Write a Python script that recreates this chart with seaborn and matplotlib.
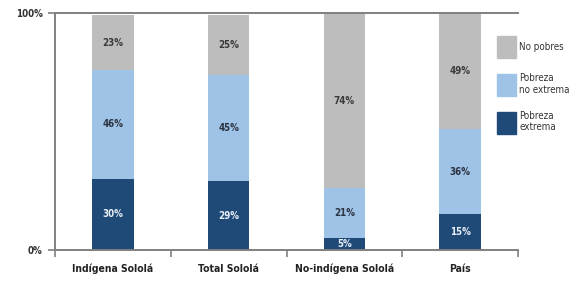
import matplotlib
matplotlib.use("Agg")
import matplotlib.pyplot as plt
import matplotlib.patches as mpatches
import pandas as pd
import seaborn as sns

# datos
categorias = ["Indígena Sololá", "Total Sololá", "No-indígena Sololá", "País"]
pobreza_extrema = [30, 29, 5, 15]
pobreza_no_extrema = [46, 45, 21, 36]
no_pobres = [23, 25, 74, 49]

color_extrema = "#1f4a78"
color_no_extrema = "#9fc2e7"
color_no_pobres = "#bdbdbd"

sns.set_style("white")
plt.rcParams["font.family"] = ["DejaVu Sans"]
plt.rcParams["font.stretch"] = "condensed"

df = pd.DataFrame({
    "categoria": categorias,
    "extrema": pobreza_extrema,
    "no_extrema": pobreza_no_extrema,
    "no_pobres": no_pobres,
})
# alturas acumuladas para apilar
df["tope_no_extrema"] = df["extrema"] + df["no_extrema"]
df["tope_total"] = df["tope_no_extrema"] + df["no_pobres"]

fig = plt.figure(figsize=(5.76, 2.91), dpi=100)
ax = fig.add_axes([55 / 576, 1 - 250 / 291, 463 / 576, 237 / 291])

ancho = 0.36
for col, color in [("tope_total", color_no_pobres),
                   ("tope_no_extrema", color_no_extrema),
                   ("extrema", color_extrema)]:
    sns.barplot(data=df, x="categoria", y=col, color=color, width=ancho,
                saturation=1, linewidth=0, ax=ax)

# etiquetas dentro de las barras
for i, row in df.iterrows():
    ax.text(i, row["extrema"] / 2, f"{row['extrema']}%", ha="center", va="center",
            fontsize=7, color="#e8eef6", fontweight="bold")
    ax.text(i, row["extrema"] + row["no_extrema"] / 2, f"{row['no_extrema']}%",
            ha="center", va="center", fontsize=7, color="#2b3340", fontweight="bold")
    ax.text(i, row["tope_no_extrema"] + row["no_pobres"] / 2, f"{row['no_pobres']}%",
            ha="center", va="center", fontsize=7, color="#3a3a3a", fontweight="bold")

ax.set_xlim(-0.5, 3.5)
ax.set_ylim(0, 100)
ax.set_xlabel("")
ax.set_ylabel("")
ax.set_yticks([0, 100])
ax.set_yticklabels(["0%", "100%"], fontsize=7, fontweight="bold", color="#333333")
ax.set_xticks(range(4))
ax.set_xticklabels(categorias, fontsize=7.5, fontweight="bold", color="#222222")
ax.set_xticks([-0.5, 0.5, 1.5, 2.5, 3.5], minor=True)
ax.tick_params(axis="x", which="major", length=0, pad=10)
ax.tick_params(axis="x", which="minor", length=5, width=1.2, color="#808080",
               direction="out", bottom=True)
ax.tick_params(axis="y", length=5, width=1.2, color="#808080", direction="out",
               left=True, pad=4)

for lado in ["left", "bottom", "top"]:
    ax.spines[lado].set_color("#808080")
    ax.spines[lado].set_linewidth(1.4)
ax.spines["right"].set_visible(False)

handles = [
    mpatches.Patch(color=color_no_pobres, label="No pobres"),
    mpatches.Patch(color=color_no_extrema, label="Pobreza\nno extrema"),
    mpatches.Patch(color=color_extrema, label="Pobreza\nextrema"),
]
fig.legend(handles=handles, loc="upper left", bbox_to_anchor=(488 / 576, 1 - 27 / 291),
           frameon=False, fontsize=7, handlelength=2.0, handleheight=3.2,
           labelspacing=1.5, handletextpad=0.3, labelcolor="#333333")

fig.savefig("out.png", dpi=100)
